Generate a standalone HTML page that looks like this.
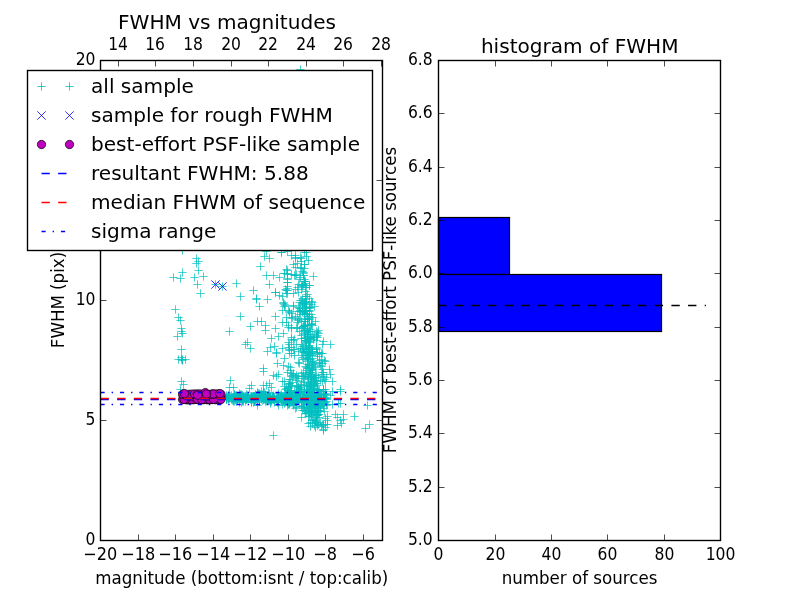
<!DOCTYPE html>
<html lang="en">
<head>
<meta charset="utf-8">
<title>FWHM vs magnitudes</title>
<style>
html,body{margin:0;padding:0;background:#fff;}
body{width:800px;height:600px;overflow:hidden;}
svg{display:block;}
svg text{font-family:"DejaVu Sans","Liberation Sans",sans-serif;fill:#000;}
</style>
</head>
<body>
<svg width="800" height="600" viewBox="0 0 800 600">
<rect width="800" height="600" fill="#fff"/>
<defs><clipPath id="cl"><rect x="100.5" y="60.5" width="282" height="480"/></clipPath></defs>
<g id="left-plot" clip-path="url(#cl)">
<path id="all-sample" d="M300.33 352.5h8.34M304.5 348.33v8.34M285.33 312.5h8.34M289.5 308.33v8.34M309.33 384.5h8.34M313.5 380.33v8.34M306.33 379.5h8.34M310.5 375.33v8.34M307.33 376.5h8.34M311.5 372.33v8.34M300.33 252.5h8.34M304.5 248.33v8.34M305.33 394.5h8.34M309.5 390.33v8.34M308.33 369.5h8.34M312.5 365.33v8.34M306.33 391.5h8.34M310.5 387.33v8.34M284.33 325.5h8.34M288.5 321.33v8.34M315.33 407.5h8.34M319.5 403.33v8.34M287.33 385.5h8.34M291.5 381.33v8.34M305.33 347.5h8.34M309.5 343.33v8.34M310.33 410.5h8.34M314.5 406.33v8.34M301.33 366.5h8.34M305.5 362.33v8.34M297.33 355.5h8.34M301.5 351.33v8.34M308.33 351.5h8.34M312.5 347.33v8.34M311.33 420.5h8.34M315.5 416.33v8.34M298.33 286.5h8.34M302.5 282.33v8.34M310.33 395.5h8.34M314.5 391.33v8.34M308.33 393.5h8.34M312.5 389.33v8.34M306.33 405.5h8.34M310.5 401.33v8.34M306.33 329.5h8.34M310.5 325.33v8.34M299.33 349.5h8.34M303.5 345.33v8.34M304.33 383.5h8.34M308.5 379.33v8.34M305.33 353.5h8.34M309.5 349.33v8.34M306.33 352.5h8.34M310.5 348.33v8.34M318.33 372.5h8.34M322.5 368.33v8.34M301.33 355.5h8.34M305.5 351.33v8.34M311.33 383.5h8.34M315.5 379.33v8.34M303.33 399.5h8.34M307.5 395.33v8.34M301.33 306.5h8.34M305.5 302.33v8.34M301.33 325.5h8.34M305.5 321.33v8.34M285.33 350.5h8.34M289.5 346.33v8.34M322.33 401.5h8.34M326.5 397.33v8.34M315.33 400.5h8.34M319.5 396.33v8.34M285.33 379.5h8.34M289.5 375.33v8.34M308.33 325.5h8.34M312.5 321.33v8.34M285.33 395.5h8.34M289.5 391.33v8.34M302.33 349.5h8.34M306.5 345.33v8.34M291.33 275.5h8.34M295.5 271.33v8.34M292.33 380.5h8.34M296.5 376.33v8.34M312.33 340.5h8.34M316.5 336.33v8.34M305.33 311.5h8.34M309.5 307.33v8.34M301.33 287.5h8.34M305.5 283.33v8.34M306.33 412.5h8.34M310.5 408.33v8.34M301.33 338.5h8.34M305.5 334.33v8.34M308.33 393.5h8.34M312.5 389.33v8.34M301.33 310.5h8.34M305.5 306.33v8.34M281.33 389.5h8.34M285.5 385.33v8.34M278.33 381.5h8.34M282.5 377.33v8.34M292.33 402.5h8.34M296.5 398.33v8.34M306.33 307.5h8.34M310.5 303.33v8.34M285.33 353.5h8.34M289.5 349.33v8.34M302.33 398.5h8.34M306.5 394.33v8.34M299.33 310.5h8.34M303.5 306.33v8.34M300.33 407.5h8.34M304.5 403.33v8.34M304.33 346.5h8.34M308.5 342.33v8.34M294.33 376.5h8.34M298.5 372.33v8.34M298.33 327.5h8.34M302.5 323.33v8.34M310.33 392.5h8.34M314.5 388.33v8.34M308.33 361.5h8.34M312.5 357.33v8.34M321.33 389.5h8.34M325.5 385.33v8.34M298.33 410.5h8.34M302.5 406.33v8.34M302.33 302.5h8.34M306.5 298.33v8.34M306.33 331.5h8.34M310.5 327.33v8.34M309.33 417.5h8.34M313.5 413.33v8.34M306.33 374.5h8.34M310.5 370.33v8.34M303.33 364.5h8.34M307.5 360.33v8.34M306.33 382.5h8.34M310.5 378.33v8.34M316.33 380.5h8.34M320.5 376.33v8.34M305.33 341.5h8.34M309.5 337.33v8.34M302.33 342.5h8.34M306.5 338.33v8.34M297.33 335.5h8.34M301.5 331.33v8.34M305.33 307.5h8.34M309.5 303.33v8.34M307.33 324.5h8.34M311.5 320.33v8.34M301.33 308.5h8.34M305.5 304.33v8.34M299.33 303.5h8.34M303.5 299.33v8.34M318.33 363.5h8.34M322.5 359.33v8.34M291.33 257.5h8.34M295.5 253.33v8.34M311.33 377.5h8.34M315.5 373.33v8.34M314.33 410.5h8.34M318.5 406.33v8.34M300.33 310.5h8.34M304.5 306.33v8.34M292.33 375.5h8.34M296.5 371.33v8.34M302.33 385.5h8.34M306.5 381.33v8.34M301.33 374.5h8.34M305.5 370.33v8.34M303.33 407.5h8.34M307.5 403.33v8.34M308.33 334.5h8.34M312.5 330.33v8.34M299.33 408.5h8.34M303.5 404.33v8.34M315.33 403.5h8.34M319.5 399.33v8.34M300.33 281.5h8.34M304.5 277.33v8.34M282.33 388.5h8.34M286.5 384.33v8.34M313.33 390.5h8.34M317.5 386.33v8.34M299.33 352.5h8.34M303.5 348.33v8.34M308.33 351.5h8.34M312.5 347.33v8.34M311.33 381.5h8.34M315.5 377.33v8.34M312.33 397.5h8.34M316.5 393.33v8.34M314.33 410.5h8.34M318.5 406.33v8.34M293.33 319.5h8.34M297.5 315.33v8.34M307.33 410.5h8.34M311.5 406.33v8.34M293.33 378.5h8.34M297.5 374.33v8.34M308.33 397.5h8.34M312.5 393.33v8.34M305.33 319.5h8.34M309.5 315.33v8.34M280.33 306.5h8.34M284.5 302.33v8.34M303.33 314.5h8.34M307.5 310.33v8.34M303.33 328.5h8.34M307.5 324.33v8.34M306.33 376.5h8.34M310.5 372.33v8.34M319.33 376.5h8.34M323.5 372.33v8.34M304.33 416.5h8.34M308.5 412.33v8.34M316.33 403.5h8.34M320.5 399.33v8.34M304.33 368.5h8.34M308.5 364.33v8.34M317.33 398.5h8.34M321.5 394.33v8.34M296.33 314.5h8.34M300.5 310.33v8.34M308.33 370.5h8.34M312.5 366.33v8.34M319.33 425.5h8.34M323.5 421.33v8.34M303.33 316.5h8.34M307.5 312.33v8.34M315.33 398.5h8.34M319.5 394.33v8.34M310.33 386.5h8.34M314.5 382.33v8.34M316.33 365.5h8.34M320.5 361.33v8.34M299.33 326.5h8.34M303.5 322.33v8.34M296.33 310.5h8.34M300.5 306.33v8.34M309.33 401.5h8.34M313.5 397.33v8.34M301.33 330.5h8.34M305.5 326.33v8.34M301.33 341.5h8.34M305.5 337.33v8.34M301.33 281.5h8.34M305.5 277.33v8.34M287.33 347.5h8.34M291.5 343.33v8.34M311.33 380.5h8.34M315.5 376.33v8.34M289.33 293.5h8.34M293.5 289.33v8.34M305.33 324.5h8.34M309.5 320.33v8.34M287.33 376.5h8.34M291.5 372.33v8.34M304.33 352.5h8.34M308.5 348.33v8.34M309.33 379.5h8.34M313.5 375.33v8.34M303.33 351.5h8.34M307.5 347.33v8.34M296.33 277.5h8.34M300.5 273.33v8.34M289.33 405.5h8.34M293.5 401.33v8.34M304.33 334.5h8.34M308.5 330.33v8.34M297.33 401.5h8.34M301.5 397.33v8.34M310.33 380.5h8.34M314.5 376.33v8.34M301.33 321.5h8.34M305.5 317.33v8.34M315.33 360.5h8.34M319.5 356.33v8.34M306.33 403.5h8.34M310.5 399.33v8.34M312.33 347.5h8.34M316.5 343.33v8.34M308.33 406.5h8.34M312.5 402.33v8.34M309.33 382.5h8.34M313.5 378.33v8.34M295.33 311.5h8.34M299.5 307.33v8.34M306.33 399.5h8.34M310.5 395.33v8.34M299.33 359.5h8.34M303.5 355.33v8.34M300.33 391.5h8.34M304.5 387.33v8.34M317.33 366.5h8.34M321.5 362.33v8.34M313.33 408.5h8.34M317.5 404.33v8.34M322.33 377.5h8.34M326.5 373.33v8.34M300.33 385.5h8.34M304.5 381.33v8.34M300.33 319.5h8.34M304.5 315.33v8.34M306.33 404.5h8.34M310.5 400.33v8.34M304.33 336.5h8.34M308.5 332.33v8.34M307.33 414.5h8.34M311.5 410.33v8.34M300.33 334.5h8.34M304.5 330.33v8.34M296.33 399.5h8.34M300.5 395.33v8.34M309.33 392.5h8.34M313.5 388.33v8.34M314.33 410.5h8.34M318.5 406.33v8.34M306.33 398.5h8.34M310.5 394.33v8.34M309.33 388.5h8.34M313.5 384.33v8.34M301.33 340.5h8.34M305.5 336.33v8.34M307.33 399.5h8.34M311.5 395.33v8.34M293.33 328.5h8.34M297.5 324.33v8.34M297.33 285.5h8.34M301.5 281.33v8.34M320.33 360.5h8.34M324.5 356.33v8.34M298.33 312.5h8.34M302.5 308.33v8.34M306.33 426.5h8.34M310.5 422.33v8.34M306.33 387.5h8.34M310.5 383.33v8.34M285.33 383.5h8.34M289.5 379.33v8.34M303.33 319.5h8.34M307.5 315.33v8.34M292.33 344.5h8.34M296.5 340.33v8.34M301.33 375.5h8.34M305.5 371.33v8.34M286.33 390.5h8.34M290.5 386.33v8.34M298.33 357.5h8.34M302.5 353.33v8.34M307.33 390.5h8.34M311.5 386.33v8.34M302.33 353.5h8.34M306.5 349.33v8.34M305.33 410.5h8.34M309.5 406.33v8.34M306.33 396.5h8.34M310.5 392.33v8.34M312.33 415.5h8.34M316.5 411.33v8.34M308.33 358.5h8.34M312.5 354.33v8.34M293.33 311.5h8.34M297.5 307.33v8.34M307.33 403.5h8.34M311.5 399.33v8.34M305.33 331.5h8.34M309.5 327.33v8.34M305.33 384.5h8.34M309.5 380.33v8.34M312.33 414.5h8.34M316.5 410.33v8.34M287.33 327.5h8.34M291.5 323.33v8.34M296.33 300.5h8.34M300.5 296.33v8.34M283.33 393.5h8.34M287.5 389.33v8.34M300.33 325.5h8.34M304.5 321.33v8.34M296.33 308.5h8.34M300.5 304.33v8.34M297.33 267.5h8.34M301.5 263.33v8.34M309.33 399.5h8.34M313.5 395.33v8.34M302.33 296.5h8.34M306.5 292.33v8.34M312.33 349.5h8.34M316.5 345.33v8.34M318.33 344.5h8.34M322.5 340.33v8.34M301.33 296.5h8.34M305.5 292.33v8.34M292.33 407.5h8.34M296.5 403.33v8.34M307.33 314.5h8.34M311.5 310.33v8.34M289.33 340.5h8.34M293.5 336.33v8.34M316.33 395.5h8.34M320.5 391.33v8.34M286.33 386.5h8.34M290.5 382.33v8.34M319.33 389.5h8.34M323.5 385.33v8.34M314.33 424.5h8.34M318.5 420.33v8.34M309.33 337.5h8.34M313.5 333.33v8.34M304.33 260.5h8.34M308.5 256.33v8.34M299.33 272.5h8.34M303.5 268.33v8.34M299.33 382.5h8.34M303.5 378.33v8.34M297.33 373.5h8.34M301.5 369.33v8.34M303.33 336.5h8.34M307.5 332.33v8.34M307.33 349.5h8.34M311.5 345.33v8.34M308.33 407.5h8.34M312.5 403.33v8.34M297.33 406.5h8.34M301.5 402.33v8.34M313.33 425.5h8.34M317.5 421.33v8.34M305.33 367.5h8.34M309.5 363.33v8.34M297.33 261.5h8.34M301.5 257.33v8.34M306.33 338.5h8.34M310.5 334.33v8.34M315.33 363.5h8.34M319.5 359.33v8.34M308.33 410.5h8.34M312.5 406.33v8.34M285.33 383.5h8.34M289.5 379.33v8.34M312.33 336.5h8.34M316.5 332.33v8.34M294.33 362.5h8.34M298.5 358.33v8.34M308.33 407.5h8.34M312.5 403.33v8.34M307.33 324.5h8.34M311.5 320.33v8.34M311.33 321.5h8.34M315.5 317.33v8.34M285.33 311.5h8.34M289.5 307.33v8.34M290.33 355.5h8.34M294.5 351.33v8.34M310.33 419.5h8.34M314.5 415.33v8.34M305.33 348.5h8.34M309.5 344.33v8.34M313.33 352.5h8.34M317.5 348.33v8.34M302.33 351.5h8.34M306.5 347.33v8.34M304.33 360.5h8.34M308.5 356.33v8.34M284.33 388.5h8.34M288.5 384.33v8.34M290.33 396.5h8.34M294.5 392.33v8.34M284.33 384.5h8.34M288.5 380.33v8.34M313.33 385.5h8.34M317.5 381.33v8.34M305.33 372.5h8.34M309.5 368.33v8.34M307.33 304.5h8.34M311.5 300.33v8.34M313.33 415.5h8.34M317.5 411.33v8.34M300.33 333.5h8.34M304.5 329.33v8.34M314.33 403.5h8.34M318.5 399.33v8.34M306.33 355.5h8.34M310.5 351.33v8.34M309.33 276.5h8.34M313.5 272.33v8.34M311.33 378.5h8.34M315.5 374.33v8.34M291.33 258.5h8.34M295.5 254.33v8.34M315.33 352.5h8.34M319.5 348.33v8.34M307.33 365.5h8.34M311.5 361.33v8.34M301.33 397.5h8.34M305.5 393.33v8.34M301.33 337.5h8.34M305.5 333.33v8.34M282.33 317.5h8.34M286.5 313.33v8.34M299.33 326.5h8.34M303.5 322.33v8.34M283.33 393.5h8.34M287.5 389.33v8.34M307.33 372.5h8.34M311.5 368.33v8.34M312.33 383.5h8.34M316.5 379.33v8.34M314.33 377.5h8.34M318.5 373.33v8.34M307.33 353.5h8.34M311.5 349.33v8.34M308.33 401.5h8.34M312.5 397.33v8.34M305.33 365.5h8.34M309.5 361.33v8.34M306.33 374.5h8.34M310.5 370.33v8.34M299.33 372.5h8.34M303.5 368.33v8.34M318.33 381.5h8.34M322.5 377.33v8.34M323.33 404.5h8.34M327.5 400.33v8.34M310.33 397.5h8.34M314.5 393.33v8.34M322.33 398.5h8.34M326.5 394.33v8.34M316.33 405.5h8.34M320.5 401.33v8.34M293.33 386.5h8.34M297.5 382.33v8.34M303.33 361.5h8.34M307.5 357.33v8.34M319.33 389.5h8.34M323.5 385.33v8.34M284.33 392.5h8.34M288.5 388.33v8.34M311.33 400.5h8.34M315.5 396.33v8.34M284.33 347.5h8.34M288.5 343.33v8.34M304.33 351.5h8.34M308.5 347.33v8.34M312.33 402.5h8.34M316.5 398.33v8.34M291.33 397.5h8.34M295.5 393.33v8.34M283.33 392.5h8.34M287.5 388.33v8.34M312.33 422.5h8.34M316.5 418.33v8.34M281.33 305.5h8.34M285.5 301.33v8.34M310.33 377.5h8.34M314.5 373.33v8.34M306.33 372.5h8.34M310.5 368.33v8.34M298.33 303.5h8.34M302.5 299.33v8.34M295.33 388.5h8.34M299.5 384.33v8.34M300.33 313.5h8.34M304.5 309.33v8.34M303.33 355.5h8.34M307.5 351.33v8.34M300.33 304.5h8.34M304.5 300.33v8.34M318.33 369.5h8.34M322.5 365.33v8.34M304.33 347.5h8.34M308.5 343.33v8.34M312.33 397.5h8.34M316.5 393.33v8.34M286.33 370.5h8.34M290.5 366.33v8.34M304.33 376.5h8.34M308.5 372.33v8.34M317.33 359.5h8.34M321.5 355.33v8.34M309.33 390.5h8.34M313.5 386.33v8.34M301.33 340.5h8.34M305.5 336.33v8.34M305.33 318.5h8.34M309.5 314.33v8.34M300.33 330.5h8.34M304.5 326.33v8.34M307.33 381.5h8.34M311.5 377.33v8.34M300.33 378.5h8.34M304.5 374.33v8.34M311.33 421.5h8.34M315.5 417.33v8.34M307.33 376.5h8.34M311.5 372.33v8.34M305.33 416.5h8.34M309.5 412.33v8.34M297.33 381.5h8.34M301.5 377.33v8.34M318.33 424.5h8.34M322.5 420.33v8.34M291.33 377.5h8.34M295.5 373.33v8.34M309.33 385.5h8.34M313.5 381.33v8.34M301.33 301.5h8.34M305.5 297.33v8.34M314.33 330.5h8.34M318.5 326.33v8.34M303.33 294.5h8.34M307.5 290.33v8.34M313.33 356.5h8.34M317.5 352.33v8.34M292.33 327.5h8.34M296.5 323.33v8.34M298.33 346.5h8.34M302.5 342.33v8.34M307.33 337.5h8.34M311.5 333.33v8.34M277.33 396.5h8.34M281.5 392.33v8.34M284.33 342.5h8.34M288.5 338.33v8.34M285.33 344.5h8.34M289.5 340.33v8.34M308.33 368.5h8.34M312.5 364.33v8.34M315.33 397.5h8.34M319.5 393.33v8.34M310.33 364.5h8.34M314.5 360.33v8.34M308.33 369.5h8.34M312.5 365.33v8.34M303.33 358.5h8.34M307.5 354.33v8.34M302.33 310.5h8.34M306.5 306.33v8.34M301.33 283.5h8.34M305.5 279.33v8.34M311.33 405.5h8.34M315.5 401.33v8.34M284.33 387.5h8.34M288.5 383.33v8.34M306.33 422.5h8.34M310.5 418.33v8.34M307.33 386.5h8.34M311.5 382.33v8.34M311.33 413.5h8.34M315.5 409.33v8.34M305.33 373.5h8.34M309.5 369.33v8.34M313.33 395.5h8.34M317.5 391.33v8.34M292.33 391.5h8.34M296.5 387.33v8.34M307.33 323.5h8.34M311.5 319.33v8.34M290.33 349.5h8.34M294.5 345.33v8.34M292.33 385.5h8.34M296.5 381.33v8.34M305.33 392.5h8.34M309.5 388.33v8.34M295.33 318.5h8.34M299.5 314.33v8.34M283.33 394.5h8.34M287.5 390.33v8.34M288.33 317.5h8.34M292.5 313.33v8.34M287.33 337.5h8.34M291.5 333.33v8.34M303.33 319.5h8.34M307.5 315.33v8.34M309.33 388.5h8.34M313.5 384.33v8.34M289.33 373.5h8.34M293.5 369.33v8.34M300.33 268.5h8.34M304.5 264.33v8.34M308.33 355.5h8.34M312.5 351.33v8.34M312.33 422.5h8.34M316.5 418.33v8.34M296.33 395.5h8.34M300.5 391.33v8.34M305.33 298.5h8.34M309.5 294.33v8.34M315.33 362.5h8.34M319.5 358.33v8.34M306.33 385.5h8.34M310.5 381.33v8.34M326.33 395.5h8.34M330.5 391.33v8.34M304.33 412.5h8.34M308.5 408.33v8.34M293.33 322.5h8.34M297.5 318.33v8.34M295.33 308.5h8.34M299.5 304.33v8.34M304.33 349.5h8.34M308.5 345.33v8.34M314.33 414.5h8.34M318.5 410.33v8.34M298.33 302.5h8.34M302.5 298.33v8.34M318.33 353.5h8.34M322.5 349.33v8.34M322.33 405.5h8.34M326.5 401.33v8.34M305.33 353.5h8.34M309.5 349.33v8.34M300.33 338.5h8.34M304.5 334.33v8.34M301.33 340.5h8.34M305.5 336.33v8.34M307.33 374.5h8.34M311.5 370.33v8.34M306.33 342.5h8.34M310.5 338.33v8.34M302.33 313.5h8.34M306.5 309.33v8.34M308.33 404.5h8.34M312.5 400.33v8.34M297.33 321.5h8.34M301.5 317.33v8.34M312.33 406.5h8.34M316.5 402.33v8.34M306.33 377.5h8.34M310.5 373.33v8.34M291.33 316.5h8.34M295.5 312.33v8.34M302.33 367.5h8.34M306.5 363.33v8.34M309.33 402.5h8.34M313.5 398.33v8.34M304.33 358.5h8.34M308.5 354.33v8.34M304.33 347.5h8.34M308.5 343.33v8.34M302.33 343.5h8.34M306.5 339.33v8.34M303.33 368.5h8.34M307.5 364.33v8.34M305.33 339.5h8.34M309.5 335.33v8.34M319.33 430.5h8.34M323.5 426.33v8.34M299.33 348.5h8.34M303.5 344.33v8.34M299.33 376.5h8.34M303.5 372.33v8.34M310.33 306.5h8.34M314.5 302.33v8.34M303.33 391.5h8.34M307.5 387.33v8.34M290.33 339.5h8.34M294.5 335.33v8.34M287.33 353.5h8.34M291.5 349.33v8.34M321.33 418.5h8.34M325.5 414.33v8.34M295.33 279.5h8.34M299.5 275.33v8.34M284.33 327.5h8.34M288.5 323.33v8.34M308.33 420.5h8.34M312.5 416.33v8.34M298.33 310.5h8.34M302.5 306.33v8.34M303.33 330.5h8.34M307.5 326.33v8.34M312.33 392.5h8.34M316.5 388.33v8.34M313.33 397.5h8.34M317.5 393.33v8.34M301.33 340.5h8.34M305.5 336.33v8.34M307.33 412.5h8.34M311.5 408.33v8.34M302.33 370.5h8.34M306.5 366.33v8.34M303.33 331.5h8.34M307.5 327.33v8.34M308.33 302.5h8.34M312.5 298.33v8.34M296.33 387.5h8.34M300.5 383.33v8.34M288.33 375.5h8.34M292.5 371.33v8.34M305.33 316.5h8.34M309.5 312.33v8.34M300.33 326.5h8.34M304.5 322.33v8.34M310.33 407.5h8.34M314.5 403.33v8.34M319.33 372.5h8.34M323.5 368.33v8.34M287.33 339.5h8.34M291.5 335.33v8.34M300.33 314.5h8.34M304.5 310.33v8.34M313.33 354.5h8.34M317.5 350.33v8.34M297.33 328.5h8.34M301.5 324.33v8.34M318.33 403.5h8.34M322.5 399.33v8.34M294.33 387.5h8.34M298.5 383.33v8.34M286.33 379.5h8.34M290.5 375.33v8.34M314.33 333.5h8.34M318.5 329.33v8.34M311.33 367.5h8.34M315.5 363.33v8.34M289.33 374.5h8.34M293.5 370.33v8.34M311.33 397.5h8.34M315.5 393.33v8.34M323.33 420.5h8.34M327.5 416.33v8.34M300.33 302.5h8.34M304.5 298.33v8.34M313.33 390.5h8.34M317.5 386.33v8.34M310.33 408.5h8.34M314.5 404.33v8.34M282.33 400.5h8.34M286.5 396.33v8.34M294.33 307.5h8.34M298.5 303.33v8.34M308.33 400.5h8.34M312.5 396.33v8.34M295.33 391.5h8.34M299.5 387.33v8.34M313.33 423.5h8.34M317.5 419.33v8.34M302.33 402.5h8.34M306.5 398.33v8.34M296.33 268.5h8.34M300.5 264.33v8.34M301.33 413.5h8.34M305.5 409.33v8.34M316.33 422.5h8.34M320.5 418.33v8.34M301.33 299.5h8.34M305.5 295.33v8.34M301.33 340.5h8.34M305.5 336.33v8.34M289.33 306.5h8.34M293.5 302.33v8.34M312.33 348.5h8.34M316.5 344.33v8.34M305.33 351.5h8.34M309.5 347.33v8.34M314.33 414.5h8.34M318.5 410.33v8.34M303.33 338.5h8.34M307.5 334.33v8.34M304.33 318.5h8.34M308.5 314.33v8.34M303.33 377.5h8.34M307.5 373.33v8.34M303.33 338.5h8.34M307.5 334.33v8.34M284.33 310.5h8.34M288.5 306.33v8.34M297.33 300.5h8.34M301.5 296.33v8.34M305.33 402.5h8.34M309.5 398.33v8.34M317.33 374.5h8.34M321.5 370.33v8.34M313.33 396.5h8.34M317.5 392.33v8.34M311.33 375.5h8.34M315.5 371.33v8.34M297.33 417.5h8.34M301.5 413.33v8.34M310.33 425.5h8.34M314.5 421.33v8.34M304.33 379.5h8.34M308.5 375.33v8.34M298.33 311.5h8.34M302.5 307.33v8.34M278.33 296.5h8.34M282.5 292.33v8.34M284.33 387.5h8.34M288.5 383.33v8.34M308.33 317.5h8.34M312.5 313.33v8.34M298.33 298.5h8.34M302.5 294.33v8.34M300.33 281.5h8.34M304.5 277.33v8.34M305.33 345.5h8.34M309.5 341.33v8.34M287.33 318.5h8.34M291.5 314.33v8.34M312.33 375.5h8.34M316.5 371.33v8.34M320.33 379.5h8.34M324.5 375.33v8.34M296.33 348.5h8.34M300.5 344.33v8.34M295.33 302.5h8.34M299.5 298.33v8.34M313.33 335.5h8.34M317.5 331.33v8.34M307.33 389.5h8.34M311.5 385.33v8.34M321.33 398.5h8.34M325.5 394.33v8.34M311.33 398.5h8.34M315.5 394.33v8.34M302.33 355.5h8.34M306.5 351.33v8.34M304.33 331.5h8.34M308.5 327.33v8.34M295.33 331.5h8.34M299.5 327.33v8.34M319.33 374.5h8.34M323.5 370.33v8.34M306.33 359.5h8.34M310.5 355.33v8.34M304.33 409.5h8.34M308.5 405.33v8.34M280.33 386.5h8.34M284.5 382.33v8.34M319.33 405.5h8.34M323.5 401.33v8.34M308.33 389.5h8.34M312.5 385.33v8.34M287.33 373.5h8.34M291.5 369.33v8.34M308.33 363.5h8.34M312.5 359.33v8.34M304.33 423.5h8.34M308.5 419.33v8.34M306.33 337.5h8.34M310.5 333.33v8.34M321.33 393.5h8.34M325.5 389.33v8.34M277.33 394.5h8.34M281.5 390.33v8.34M309.33 366.5h8.34M313.5 362.33v8.34M298.33 305.5h8.34M302.5 301.33v8.34M305.33 408.5h8.34M309.5 404.33v8.34M294.33 398.5h8.34M298.5 394.33v8.34M301.33 291.5h8.34M305.5 287.33v8.34M310.33 395.5h8.34M314.5 391.33v8.34M307.33 403.5h8.34M311.5 399.33v8.34M312.33 415.5h8.34M316.5 411.33v8.34M323.33 416.5h8.34M327.5 412.33v8.34M307.33 410.5h8.34M311.5 406.33v8.34M280.33 381.5h8.34M284.5 377.33v8.34M293.33 287.5h8.34M297.5 283.33v8.34M304.33 410.5h8.34M308.5 406.33v8.34M310.33 384.5h8.34M314.5 380.33v8.34M287.33 328.5h8.34M291.5 324.33v8.34M289.33 349.5h8.34M293.5 345.33v8.34M305.33 310.5h8.34M309.5 306.33v8.34M305.33 308.5h8.34M309.5 304.33v8.34M298.33 376.5h8.34M302.5 372.33v8.34M312.33 412.5h8.34M316.5 408.33v8.34M313.33 415.5h8.34M317.5 411.33v8.34M301.33 321.5h8.34M305.5 317.33v8.34M303.33 325.5h8.34M307.5 321.33v8.34M302.33 332.5h8.34M306.5 328.33v8.34M307.33 415.5h8.34M311.5 411.33v8.34M295.33 363.5h8.34M299.5 359.33v8.34M304.33 395.5h8.34M308.5 391.33v8.34M282.33 322.5h8.34M286.5 318.33v8.34M309.33 339.5h8.34M313.5 335.33v8.34M309.33 399.5h8.34M313.5 395.33v8.34M297.33 384.5h8.34M301.5 380.33v8.34M313.33 412.5h8.34M317.5 408.33v8.34M301.33 311.5h8.34M305.5 307.33v8.34M302.33 303.5h8.34M306.5 299.33v8.34M302.33 351.5h8.34M306.5 347.33v8.34M304.33 390.5h8.34M308.5 386.33v8.34M304.33 359.5h8.34M308.5 355.33v8.34M312.33 331.5h8.34M316.5 327.33v8.34M305.33 354.5h8.34M309.5 350.33v8.34M302.33 403.5h8.34M306.5 399.33v8.34M285.33 349.5h8.34M289.5 345.33v8.34M307.33 394.5h8.34M311.5 390.33v8.34M287.33 313.5h8.34M291.5 309.33v8.34M286.33 367.5h8.34M290.5 363.33v8.34M280.33 304.5h8.34M284.5 300.33v8.34M311.33 406.5h8.34M315.5 402.33v8.34M296.33 390.5h8.34M300.5 386.33v8.34M297.33 344.5h8.34M301.5 340.33v8.34M309.33 382.5h8.34M313.5 378.33v8.34M301.33 345.5h8.34M305.5 341.33v8.34M307.33 411.5h8.34M311.5 407.33v8.34M289.33 305.5h8.34M293.5 301.33v8.34M299.33 284.5h8.34M303.5 280.33v8.34M319.33 424.5h8.34M323.5 420.33v8.34M281.33 289.5h8.34M285.5 285.33v8.34M307.33 378.5h8.34M311.5 374.33v8.34M279.33 365.5h8.34M283.5 361.33v8.34M302.33 351.5h8.34M306.5 347.33v8.34M282.33 399.5h8.34M286.5 395.33v8.34M284.33 366.5h8.34M288.5 362.33v8.34M298.33 350.5h8.34M302.5 346.33v8.34M283.33 372.5h8.34M287.5 368.33v8.34M313.33 353.5h8.34M317.5 349.33v8.34M310.33 337.5h8.34M314.5 333.33v8.34M309.33 362.5h8.34M313.5 358.33v8.34M294.33 320.5h8.34M298.5 316.33v8.34M299.33 273.5h8.34M303.5 269.33v8.34M307.33 301.5h8.34M311.5 297.33v8.34M320.33 399.5h8.34M324.5 395.33v8.34M300.33 397.5h8.34M304.5 393.33v8.34M294.33 284.5h8.34M298.5 280.33v8.34M313.33 414.5h8.34M317.5 410.33v8.34M312.33 400.5h8.34M316.5 396.33v8.34M315.33 417.5h8.34M319.5 413.33v8.34M319.33 408.5h8.34M323.5 404.33v8.34M298.33 402.5h8.34M302.5 398.33v8.34M317.33 353.5h8.34M321.5 349.33v8.34M316.33 406.5h8.34M320.5 402.33v8.34M319.33 429.5h8.34M323.5 425.33v8.34M313.33 411.5h8.34M317.5 407.33v8.34M288.33 382.5h8.34M292.5 378.33v8.34M294.33 351.5h8.34M298.5 347.33v8.34M308.33 349.5h8.34M312.5 345.33v8.34M297.33 338.5h8.34M301.5 334.33v8.34M280.33 392.5h8.34M284.5 388.33v8.34M306.33 389.5h8.34M310.5 385.33v8.34M302.33 413.5h8.34M306.5 409.33v8.34M238.33 399.5h8.34M242.5 395.33v8.34M279.33 399.5h8.34M283.5 395.33v8.34M238.33 396.5h8.34M242.5 392.33v8.34M253.33 393.5h8.34M257.5 389.33v8.34M229.33 401.5h8.34M233.5 397.33v8.34M250.33 396.5h8.34M254.5 392.33v8.34M265.33 393.5h8.34M269.5 389.33v8.34M234.33 396.5h8.34M238.5 392.33v8.34M261.33 397.5h8.34M265.5 393.33v8.34M261.33 397.5h8.34M265.5 393.33v8.34M250.33 399.5h8.34M254.5 395.33v8.34M278.33 397.5h8.34M282.5 393.33v8.34M223.33 396.5h8.34M227.5 392.33v8.34M270.33 401.5h8.34M274.5 397.33v8.34M232.33 401.5h8.34M236.5 397.33v8.34M232.33 398.5h8.34M236.5 394.33v8.34M274.33 400.5h8.34M278.5 396.33v8.34M279.33 401.5h8.34M283.5 397.33v8.34M285.33 399.5h8.34M289.5 395.33v8.34M253.33 398.5h8.34M257.5 394.33v8.34M273.33 402.5h8.34M277.5 398.33v8.34M241.33 399.5h8.34M245.5 395.33v8.34M260.33 396.5h8.34M264.5 392.33v8.34M230.33 395.5h8.34M234.5 391.33v8.34M267.33 398.5h8.34M271.5 394.33v8.34M263.33 397.5h8.34M267.5 393.33v8.34M251.33 395.5h8.34M255.5 391.33v8.34M225.33 397.5h8.34M229.5 393.33v8.34M259.33 397.5h8.34M263.5 393.33v8.34M224.33 398.5h8.34M228.5 394.33v8.34M239.33 398.5h8.34M243.5 394.33v8.34M261.33 399.5h8.34M265.5 395.33v8.34M278.33 396.5h8.34M282.5 392.33v8.34M225.33 398.5h8.34M229.5 394.33v8.34M265.33 397.5h8.34M269.5 393.33v8.34M226.33 396.5h8.34M230.5 392.33v8.34M229.33 400.5h8.34M233.5 396.33v8.34M282.33 398.5h8.34M286.5 394.33v8.34M229.33 399.5h8.34M233.5 395.33v8.34M251.33 400.5h8.34M255.5 396.33v8.34M233.33 399.5h8.34M237.5 395.33v8.34M266.33 402.5h8.34M270.5 398.33v8.34M225.33 397.5h8.34M229.5 393.33v8.34M253.33 396.5h8.34M257.5 392.33v8.34M228.33 398.5h8.34M232.5 394.33v8.34M253.33 402.5h8.34M257.5 398.33v8.34M253.33 398.5h8.34M257.5 394.33v8.34M257.33 399.5h8.34M261.5 395.33v8.34M250.33 396.5h8.34M254.5 392.33v8.34M228.33 400.5h8.34M232.5 396.33v8.34M252.33 397.5h8.34M256.5 393.33v8.34M255.33 393.5h8.34M259.5 389.33v8.34M269.33 396.5h8.34M273.5 392.33v8.34M250.33 399.5h8.34M254.5 395.33v8.34M230.33 401.5h8.34M234.5 397.33v8.34M273.33 401.5h8.34M277.5 397.33v8.34M277.33 401.5h8.34M281.5 397.33v8.34M257.33 397.5h8.34M261.5 393.33v8.34M252.33 398.5h8.34M256.5 394.33v8.34M261.33 398.5h8.34M265.5 394.33v8.34M229.33 398.5h8.34M233.5 394.33v8.34M261.33 394.5h8.34M265.5 390.33v8.34M253.33 398.5h8.34M257.5 394.33v8.34M244.33 396.5h8.34M248.5 392.33v8.34M255.33 397.5h8.34M259.5 393.33v8.34M243.33 396.5h8.34M247.5 392.33v8.34M249.33 399.5h8.34M253.5 395.33v8.34M238.33 395.5h8.34M242.5 391.33v8.34M265.33 400.5h8.34M269.5 396.33v8.34M241.33 401.5h8.34M245.5 397.33v8.34M263.33 400.5h8.34M267.5 396.33v8.34M282.33 395.5h8.34M286.5 391.33v8.34M232.33 396.5h8.34M236.5 392.33v8.34M273.33 400.5h8.34M277.5 396.33v8.34M285.33 404.5h8.34M289.5 400.33v8.34M237.33 396.5h8.34M241.5 392.33v8.34M280.33 402.5h8.34M284.5 398.33v8.34M247.33 402.5h8.34M251.5 398.33v8.34M246.33 396.5h8.34M250.5 392.33v8.34M242.33 394.5h8.34M246.5 390.33v8.34M238.33 400.5h8.34M242.5 396.33v8.34M266.33 403.5h8.34M270.5 399.33v8.34M229.33 399.5h8.34M233.5 395.33v8.34M238.33 401.5h8.34M242.5 397.33v8.34M243.33 398.5h8.34M247.5 394.33v8.34M252.33 395.5h8.34M256.5 391.33v8.34M267.33 400.5h8.34M271.5 396.33v8.34M238.33 395.5h8.34M242.5 391.33v8.34M261.33 398.5h8.34M265.5 394.33v8.34M231.33 399.5h8.34M235.5 395.33v8.34M268.33 396.5h8.34M272.5 392.33v8.34M267.33 399.5h8.34M271.5 395.33v8.34M245.33 398.5h8.34M249.5 394.33v8.34M284.33 390.5h8.34M288.5 386.33v8.34M285.33 401.5h8.34M289.5 397.33v8.34M237.33 402.5h8.34M241.5 398.33v8.34M283.33 394.5h8.34M287.5 390.33v8.34M229.33 397.5h8.34M233.5 393.33v8.34M272.33 399.5h8.34M276.5 395.33v8.34M237.33 394.5h8.34M241.5 390.33v8.34M255.33 399.5h8.34M259.5 395.33v8.34M266.33 397.5h8.34M270.5 393.33v8.34M243.33 395.5h8.34M247.5 391.33v8.34M231.33 396.5h8.34M235.5 392.33v8.34M222.33 398.5h8.34M226.5 394.33v8.34M250.33 397.5h8.34M254.5 393.33v8.34M259.33 397.5h8.34M263.5 393.33v8.34M232.33 397.5h8.34M236.5 393.33v8.34M258.33 394.5h8.34M262.5 390.33v8.34M276.33 397.5h8.34M280.5 393.33v8.34M244.33 397.5h8.34M248.5 393.33v8.34M255.33 396.5h8.34M259.5 392.33v8.34M276.33 395.5h8.34M280.5 391.33v8.34M280.33 403.5h8.34M284.5 399.33v8.34M259.33 397.5h8.34M263.5 393.33v8.34M270.33 397.5h8.34M274.5 393.33v8.34M247.33 396.5h8.34M251.5 392.33v8.34M265.33 399.5h8.34M269.5 395.33v8.34M242.33 399.5h8.34M246.5 395.33v8.34M239.33 396.5h8.34M243.5 392.33v8.34M243.33 398.5h8.34M247.5 394.33v8.34M270.33 398.5h8.34M274.5 394.33v8.34M250.33 396.5h8.34M254.5 392.33v8.34M249.33 397.5h8.34M253.5 393.33v8.34M255.33 401.5h8.34M259.5 397.33v8.34M222.33 397.5h8.34M226.5 393.33v8.34M259.33 399.5h8.34M263.5 395.33v8.34M223.33 397.5h8.34M227.5 393.33v8.34M253.33 394.5h8.34M257.5 390.33v8.34M230.33 394.5h8.34M234.5 390.33v8.34M228.33 397.5h8.34M232.5 393.33v8.34M248.33 396.5h8.34M252.5 392.33v8.34M269.33 397.5h8.34M273.5 393.33v8.34M253.33 392.5h8.34M257.5 388.33v8.34M231.33 398.5h8.34M235.5 394.33v8.34M222.33 399.5h8.34M226.5 395.33v8.34M277.33 397.5h8.34M281.5 393.33v8.34M251.33 394.5h8.34M255.5 390.33v8.34M272.33 398.5h8.34M276.5 394.33v8.34M250.33 401.5h8.34M254.5 397.33v8.34M254.33 397.5h8.34M258.5 393.33v8.34M249.33 402.5h8.34M253.5 398.33v8.34M255.33 400.5h8.34M259.5 396.33v8.34M222.33 399.5h8.34M226.5 395.33v8.34M227.33 398.5h8.34M231.5 394.33v8.34M222.33 395.5h8.34M226.5 391.33v8.34M285.33 400.5h8.34M289.5 396.33v8.34M244.33 398.5h8.34M248.5 394.33v8.34M247.33 398.5h8.34M251.5 394.33v8.34M285.33 403.5h8.34M289.5 399.33v8.34M254.33 396.5h8.34M258.5 392.33v8.34M250.33 399.5h8.34M254.5 395.33v8.34M257.33 391.5h8.34M261.5 387.33v8.34M283.33 402.5h8.34M287.5 398.33v8.34M279.33 400.5h8.34M283.5 396.33v8.34M264.33 397.5h8.34M268.5 393.33v8.34M235.33 397.5h8.34M239.5 393.33v8.34M282.33 396.5h8.34M286.5 392.33v8.34M262.33 398.5h8.34M266.5 394.33v8.34M247.33 399.5h8.34M251.5 395.33v8.34M257.33 397.5h8.34M261.5 393.33v8.34M241.33 396.5h8.34M245.5 392.33v8.34M236.33 396.5h8.34M240.5 392.33v8.34M247.33 398.5h8.34M251.5 394.33v8.34M236.33 398.5h8.34M240.5 394.33v8.34M239.33 396.5h8.34M243.5 392.33v8.34M264.33 399.5h8.34M268.5 395.33v8.34M259.33 392.5h8.34M263.5 388.33v8.34M229.33 397.5h8.34M233.5 393.33v8.34M223.33 398.5h8.34M227.5 394.33v8.34M273.33 397.5h8.34M277.5 393.33v8.34M235.33 398.5h8.34M239.5 394.33v8.34M234.33 397.5h8.34M238.5 393.33v8.34M280.33 395.5h8.34M284.5 391.33v8.34M283.33 402.5h8.34M287.5 398.33v8.34M258.33 400.5h8.34M262.5 396.33v8.34M261.33 397.5h8.34M265.5 393.33v8.34M228.33 398.5h8.34M232.5 394.33v8.34M222.33 398.5h8.34M226.5 394.33v8.34M259.33 391.5h8.34M263.5 387.33v8.34M234.33 397.5h8.34M238.5 393.33v8.34M255.33 398.5h8.34M259.5 394.33v8.34M253.33 399.5h8.34M257.5 395.33v8.34M259.33 399.5h8.34M263.5 395.33v8.34M250.33 401.5h8.34M254.5 397.33v8.34M229.33 397.5h8.34M233.5 393.33v8.34M224.33 396.5h8.34M228.5 392.33v8.34M268.33 396.5h8.34M272.5 392.33v8.34M224.33 398.5h8.34M228.5 394.33v8.34M262.33 401.5h8.34M266.5 397.33v8.34M250.33 400.5h8.34M254.5 396.33v8.34M232.33 395.5h8.34M236.5 391.33v8.34M233.33 399.5h8.34M237.5 395.33v8.34M250.33 401.5h8.34M254.5 397.33v8.34M274.33 397.5h8.34M278.5 393.33v8.34M256.33 394.5h8.34M260.5 390.33v8.34M247.33 396.5h8.34M251.5 392.33v8.34M268.33 398.5h8.34M272.5 394.33v8.34M253.33 394.5h8.34M257.5 390.33v8.34M264.33 392.5h8.34M268.5 388.33v8.34M242.33 399.5h8.34M246.5 395.33v8.34M258.33 396.5h8.34M262.5 392.33v8.34M282.33 397.5h8.34M286.5 393.33v8.34M241.33 397.5h8.34M245.5 393.33v8.34M268.33 396.5h8.34M272.5 392.33v8.34M272.33 398.5h8.34M276.5 394.33v8.34M263.33 397.5h8.34M267.5 393.33v8.34M249.33 396.5h8.34M253.5 392.33v8.34M231.33 395.5h8.34M235.5 391.33v8.34M267.33 387.5h8.34M271.5 383.33v8.34M241.33 398.5h8.34M245.5 394.33v8.34M263.33 400.5h8.34M267.5 396.33v8.34M239.33 400.5h8.34M243.5 396.33v8.34M281.33 396.5h8.34M285.5 392.33v8.34M284.33 390.5h8.34M288.5 386.33v8.34M250.33 398.5h8.34M254.5 394.33v8.34M270.33 399.5h8.34M274.5 395.33v8.34M225.33 398.5h8.34M229.5 394.33v8.34M253.33 405.5h8.34M257.5 401.33v8.34M276.33 396.5h8.34M280.5 392.33v8.34M242.33 396.5h8.34M246.5 392.33v8.34M262.33 397.5h8.34M266.5 393.33v8.34M255.33 398.5h8.34M259.5 394.33v8.34M280.33 400.5h8.34M284.5 396.33v8.34M233.33 398.5h8.34M237.5 394.33v8.34M243.33 397.5h8.34M247.5 393.33v8.34M232.33 398.5h8.34M236.5 394.33v8.34M264.33 399.5h8.34M268.5 395.33v8.34M248.33 396.5h8.34M252.5 392.33v8.34M256.33 396.5h8.34M260.5 392.33v8.34M273.33 399.5h8.34M277.5 395.33v8.34M275.33 397.5h8.34M279.5 393.33v8.34M244.33 396.5h8.34M248.5 392.33v8.34M277.33 398.5h8.34M281.5 394.33v8.34M261.33 401.5h8.34M265.5 397.33v8.34M263.33 397.5h8.34M267.5 393.33v8.34M235.33 402.5h8.34M239.5 398.33v8.34M239.33 397.5h8.34M243.5 393.33v8.34M222.33 399.5h8.34M226.5 395.33v8.34M283.33 394.5h8.34M287.5 390.33v8.34M238.33 397.5h8.34M242.5 393.33v8.34M230.33 394.5h8.34M234.5 390.33v8.34M236.33 394.5h8.34M240.5 390.33v8.34M274.33 396.5h8.34M278.5 392.33v8.34M235.33 393.5h8.34M239.5 389.33v8.34M267.33 401.5h8.34M271.5 397.33v8.34M260.33 392.5h8.34M264.5 388.33v8.34M254.33 398.5h8.34M258.5 394.33v8.34M250.33 396.5h8.34M254.5 392.33v8.34M231.33 399.5h8.34M235.5 395.33v8.34M224.33 399.5h8.34M228.5 395.33v8.34M229.33 396.5h8.34M233.5 392.33v8.34M274.33 402.5h8.34M278.5 398.33v8.34M227.33 395.5h8.34M231.5 391.33v8.34M274.33 393.5h8.34M278.5 389.33v8.34M233.33 397.5h8.34M237.5 393.33v8.34M281.33 396.5h8.34M285.5 392.33v8.34M252.33 397.5h8.34M256.5 393.33v8.34M227.33 398.5h8.34M231.5 394.33v8.34M246.33 399.5h8.34M250.5 395.33v8.34M253.33 395.5h8.34M257.5 391.33v8.34M273.33 400.5h8.34M277.5 396.33v8.34M260.33 397.5h8.34M264.5 393.33v8.34M248.33 399.5h8.34M252.5 395.33v8.34M252.33 397.5h8.34M256.5 393.33v8.34M257.33 397.5h8.34M261.5 393.33v8.34M224.33 395.5h8.34M228.5 391.33v8.34M278.33 404.5h8.34M282.5 400.33v8.34M235.33 398.5h8.34M239.5 394.33v8.34M254.33 393.5h8.34M258.5 389.33v8.34M224.33 398.5h8.34M228.5 394.33v8.34M233.33 400.5h8.34M237.5 396.33v8.34M237.33 395.5h8.34M241.5 391.33v8.34M227.33 398.5h8.34M231.5 394.33v8.34M282.33 398.5h8.34M286.5 394.33v8.34M284.33 395.5h8.34M288.5 391.33v8.34M240.33 396.5h8.34M244.5 392.33v8.34M280.33 399.5h8.34M284.5 395.33v8.34M251.33 400.5h8.34M255.5 396.33v8.34M239.33 401.5h8.34M243.5 397.33v8.34M260.33 396.5h8.34M264.5 392.33v8.34M247.33 402.5h8.34M251.5 398.33v8.34M230.33 398.5h8.34M234.5 394.33v8.34M260.33 398.5h8.34M264.5 394.33v8.34M260.33 399.5h8.34M264.5 395.33v8.34M270.33 402.5h8.34M274.5 398.33v8.34M227.33 399.5h8.34M231.5 395.33v8.34M240.33 398.5h8.34M244.5 394.33v8.34M241.33 396.5h8.34M245.5 392.33v8.34M249.33 396.5h8.34M253.5 392.33v8.34M228.33 397.5h8.34M232.5 393.33v8.34M261.33 395.5h8.34M265.5 391.33v8.34M247.33 400.5h8.34M251.5 396.33v8.34M265.33 398.5h8.34M269.5 394.33v8.34M274.33 405.5h8.34M278.5 401.33v8.34M234.33 397.5h8.34M238.5 393.33v8.34M273.33 400.5h8.34M277.5 396.33v8.34M266.33 396.5h8.34M270.5 392.33v8.34M269.33 395.5h8.34M273.5 391.33v8.34M244.33 398.5h8.34M248.5 394.33v8.34M309.33 394.5h8.34M313.5 390.33v8.34M290.33 403.5h8.34M294.5 399.33v8.34M288.33 397.5h8.34M292.5 393.33v8.34M316.33 411.5h8.34M320.5 407.33v8.34M304.33 389.5h8.34M308.5 385.33v8.34M317.33 394.5h8.34M321.5 390.33v8.34M314.33 390.5h8.34M318.5 386.33v8.34M305.33 394.5h8.34M309.5 390.33v8.34M296.33 389.5h8.34M300.5 385.33v8.34M281.33 398.5h8.34M285.5 394.33v8.34M283.33 405.5h8.34M287.5 401.33v8.34M299.33 405.5h8.34M303.5 401.33v8.34M300.33 392.5h8.34M304.5 388.33v8.34M309.33 392.5h8.34M313.5 388.33v8.34M320.33 397.5h8.34M324.5 393.33v8.34M286.33 402.5h8.34M290.5 398.33v8.34M287.33 399.5h8.34M291.5 395.33v8.34M281.33 402.5h8.34M285.5 398.33v8.34M313.33 399.5h8.34M317.5 395.33v8.34M319.33 397.5h8.34M323.5 393.33v8.34M294.33 400.5h8.34M298.5 396.33v8.34M304.33 397.5h8.34M308.5 393.33v8.34M287.33 402.5h8.34M291.5 398.33v8.34M287.33 395.5h8.34M291.5 391.33v8.34M285.33 392.5h8.34M289.5 388.33v8.34M304.33 408.5h8.34M308.5 404.33v8.34M284.33 395.5h8.34M288.5 391.33v8.34M296.33 393.5h8.34M300.5 389.33v8.34M304.33 397.5h8.34M308.5 393.33v8.34M294.33 394.5h8.34M298.5 390.33v8.34M284.33 403.5h8.34M288.5 399.33v8.34M296.33 394.5h8.34M300.5 390.33v8.34M292.33 393.5h8.34M296.5 389.33v8.34M287.33 398.5h8.34M291.5 394.33v8.34M302.33 394.5h8.34M306.5 390.33v8.34M303.33 386.5h8.34M307.5 382.33v8.34M320.33 411.5h8.34M324.5 407.33v8.34M294.33 386.5h8.34M298.5 382.33v8.34M281.33 394.5h8.34M285.5 390.33v8.34M300.33 410.5h8.34M304.5 406.33v8.34M288.33 398.5h8.34M292.5 394.33v8.34M310.33 401.5h8.34M314.5 397.33v8.34M302.33 399.5h8.34M306.5 395.33v8.34M302.33 404.5h8.34M306.5 400.33v8.34M301.33 397.5h8.34M305.5 393.33v8.34M313.33 397.5h8.34M317.5 393.33v8.34M299.33 399.5h8.34M303.5 395.33v8.34M295.33 393.5h8.34M299.5 389.33v8.34M304.33 392.5h8.34M308.5 388.33v8.34M290.33 391.5h8.34M294.5 387.33v8.34M299.33 401.5h8.34M303.5 397.33v8.34M292.33 398.5h8.34M296.5 394.33v8.34M305.33 402.5h8.34M309.5 398.33v8.34M302.33 397.5h8.34M306.5 393.33v8.34M290.33 395.5h8.34M294.5 391.33v8.34M289.33 398.5h8.34M293.5 394.33v8.34M287.33 398.5h8.34M291.5 394.33v8.34M292.33 393.5h8.34M296.5 389.33v8.34M317.33 404.5h8.34M321.5 400.33v8.34M295.33 397.5h8.34M299.5 393.33v8.34M305.33 395.5h8.34M309.5 391.33v8.34M319.33 396.5h8.34M323.5 392.33v8.34M293.33 396.5h8.34M297.5 392.33v8.34M318.33 404.5h8.34M322.5 400.33v8.34M321.33 397.5h8.34M325.5 393.33v8.34M283.33 401.5h8.34M287.5 397.33v8.34M303.33 403.5h8.34M307.5 399.33v8.34M294.33 396.5h8.34M298.5 392.33v8.34M290.33 396.5h8.34M294.5 392.33v8.34M304.33 398.5h8.34M308.5 394.33v8.34M304.33 400.5h8.34M308.5 396.33v8.34M313.33 398.5h8.34M317.5 394.33v8.34M317.33 398.5h8.34M321.5 394.33v8.34M319.33 389.5h8.34M323.5 385.33v8.34M310.33 401.5h8.34M314.5 397.33v8.34M291.33 398.5h8.34M295.5 394.33v8.34M304.33 397.5h8.34M308.5 393.33v8.34M314.33 400.5h8.34M318.5 396.33v8.34M289.33 403.5h8.34M293.5 399.33v8.34M285.33 393.5h8.34M289.5 389.33v8.34M301.33 411.5h8.34M305.5 407.33v8.34M284.33 399.5h8.34M288.5 395.33v8.34M294.33 399.5h8.34M298.5 395.33v8.34M306.33 403.5h8.34M310.5 399.33v8.34M286.33 395.5h8.34M290.5 391.33v8.34M302.33 391.5h8.34M306.5 387.33v8.34M300.33 398.5h8.34M304.5 394.33v8.34M282.33 396.5h8.34M286.5 392.33v8.34M299.33 397.5h8.34M303.5 393.33v8.34M288.33 402.5h8.34M292.5 398.33v8.34M284.33 396.5h8.34M288.5 392.33v8.34M313.33 389.5h8.34M317.5 385.33v8.34M283.33 395.5h8.34M287.5 391.33v8.34M283.33 396.5h8.34M287.5 392.33v8.34M297.33 406.5h8.34M301.5 402.33v8.34M307.33 407.5h8.34M311.5 403.33v8.34M288.33 401.5h8.34M292.5 397.33v8.34M307.33 402.5h8.34M311.5 398.33v8.34M293.33 399.5h8.34M297.5 395.33v8.34M321.33 402.5h8.34M325.5 398.33v8.34M295.33 402.5h8.34M299.5 398.33v8.34M300.33 391.5h8.34M304.5 387.33v8.34M291.33 393.5h8.34M295.5 389.33v8.34M298.33 397.5h8.34M302.5 393.33v8.34M291.33 398.5h8.34M295.5 394.33v8.34M297.33 400.5h8.34M301.5 396.33v8.34M288.33 396.5h8.34M292.5 392.33v8.34M320.33 394.5h8.34M324.5 390.33v8.34M283.33 401.5h8.34M287.5 397.33v8.34M294.33 399.5h8.34M298.5 395.33v8.34M305.33 413.5h8.34M309.5 409.33v8.34M302.33 404.5h8.34M306.5 400.33v8.34M320.33 403.5h8.34M324.5 399.33v8.34M287.33 400.5h8.34M291.5 396.33v8.34M319.33 391.5h8.34M323.5 387.33v8.34M306.33 404.5h8.34M310.5 400.33v8.34M319.33 395.5h8.34M323.5 391.33v8.34M317.33 398.5h8.34M321.5 394.33v8.34M313.33 399.5h8.34M317.5 395.33v8.34M286.33 392.5h8.34M290.5 388.33v8.34M290.33 398.5h8.34M294.5 394.33v8.34M314.33 397.5h8.34M318.5 393.33v8.34M299.33 400.5h8.34M303.5 396.33v8.34M281.33 397.5h8.34M285.5 393.33v8.34M303.33 398.5h8.34M307.5 394.33v8.34M306.33 395.5h8.34M310.5 391.33v8.34M295.33 392.5h8.34M299.5 388.33v8.34M293.33 399.5h8.34M297.5 395.33v8.34M294.33 392.5h8.34M298.5 388.33v8.34M289.33 396.5h8.34M293.5 392.33v8.34M321.33 381.5h8.34M325.5 377.33v8.34M310.33 396.5h8.34M314.5 392.33v8.34M305.33 397.5h8.34M309.5 393.33v8.34M287.33 398.5h8.34M291.5 394.33v8.34M309.33 407.5h8.34M313.5 403.33v8.34M307.33 393.5h8.34M311.5 389.33v8.34M299.33 394.5h8.34M303.5 390.33v8.34M295.33 396.5h8.34M299.5 392.33v8.34M302.33 394.5h8.34M306.5 390.33v8.34M290.33 401.5h8.34M294.5 397.33v8.34M322.33 394.5h8.34M326.5 390.33v8.34M286.33 398.5h8.34M290.5 394.33v8.34M300.33 394.5h8.34M304.5 390.33v8.34M284.33 399.5h8.34M288.5 395.33v8.34M319.33 394.5h8.34M323.5 390.33v8.34M316.33 398.5h8.34M320.5 394.33v8.34M296.33 398.5h8.34M300.5 394.33v8.34M319.33 398.5h8.34M323.5 394.33v8.34M284.33 404.5h8.34M288.5 400.33v8.34M319.33 391.5h8.34M323.5 387.33v8.34M286.33 399.5h8.34M290.5 395.33v8.34M287.33 392.5h8.34M291.5 388.33v8.34M287.33 390.5h8.34M291.5 386.33v8.34M303.33 394.5h8.34M307.5 390.33v8.34M311.33 399.5h8.34M315.5 395.33v8.34M289.33 403.5h8.34M293.5 399.33v8.34M296.33 398.5h8.34M300.5 394.33v8.34M322.33 399.5h8.34M326.5 395.33v8.34M314.33 393.5h8.34M318.5 389.33v8.34M291.33 408.5h8.34M295.5 404.33v8.34M314.33 392.5h8.34M318.5 388.33v8.34M292.33 393.5h8.34M296.5 389.33v8.34M297.33 400.5h8.34M301.5 396.33v8.34M308.33 395.5h8.34M312.5 391.33v8.34M314.33 399.5h8.34M318.5 395.33v8.34M315.33 390.5h8.34M319.5 386.33v8.34M290.33 401.5h8.34M294.5 397.33v8.34M297.33 389.5h8.34M301.5 385.33v8.34M306.33 398.5h8.34M310.5 394.33v8.34M283.33 399.5h8.34M287.5 395.33v8.34M178.33 250.5h8.34M182.5 246.33v8.34M192.33 258.5h8.34M196.5 254.33v8.34M194.33 261.5h8.34M198.5 257.33v8.34M192.33 263.5h8.34M196.5 259.33v8.34M194.33 270.5h8.34M198.5 266.33v8.34M178.33 272.5h8.34M182.5 268.33v8.34M169.33 277.5h8.34M173.5 273.33v8.34M176.33 278.5h8.34M180.5 274.33v8.34M190.33 277.5h8.34M194.5 273.33v8.34M199.33 276.5h8.34M203.5 272.33v8.34M193.33 284.5h8.34M197.5 280.33v8.34M196.33 293.5h8.34M200.5 289.33v8.34M211.33 284.5h8.34M215.5 280.33v8.34M218.33 286.5h8.34M222.5 282.33v8.34M232.33 283.5h8.34M236.5 279.33v8.34M171.33 309.5h8.34M175.5 305.33v8.34M174.33 317.5h8.34M178.5 313.33v8.34M176.33 320.5h8.34M180.5 316.33v8.34M177.33 328.5h8.34M181.5 324.33v8.34M177.33 331.5h8.34M181.5 327.33v8.34M178.33 333.5h8.34M182.5 329.33v8.34M173.33 336.5h8.34M177.5 332.33v8.34M177.33 349.5h8.34M181.5 345.33v8.34M174.33 359.5h8.34M178.5 355.33v8.34M177.33 359.5h8.34M181.5 355.33v8.34M178.33 359.5h8.34M182.5 355.33v8.34M181.33 359.5h8.34M185.5 355.33v8.34M177.33 357.5h8.34M181.5 353.33v8.34M178.33 360.5h8.34M182.5 356.33v8.34M225.33 331.5h8.34M229.5 327.33v8.34M177.33 381.5h8.34M181.5 377.33v8.34M179.33 384.5h8.34M183.5 380.33v8.34M176.33 389.5h8.34M180.5 385.33v8.34M226.33 380.5h8.34M230.5 376.33v8.34M229.33 387.5h8.34M233.5 383.33v8.34M225.33 387.5h8.34M229.5 383.33v8.34M259.33 368.5h8.34M263.5 364.33v8.34M259.33 371.5h8.34M263.5 367.33v8.34M247.33 385.5h8.34M251.5 381.33v8.34M245.33 388.5h8.34M249.5 384.33v8.34M259.33 385.5h8.34M263.5 381.33v8.34M273.33 363.5h8.34M277.5 359.33v8.34M269.33 375.5h8.34M273.5 371.33v8.34M274.33 374.5h8.34M278.5 370.33v8.34M272.33 376.5h8.34M276.5 372.33v8.34M265.33 383.5h8.34M269.5 379.33v8.34M262.33 385.5h8.34M266.5 381.33v8.34M236.33 296.5h8.34M240.5 292.33v8.34M249.33 290.5h8.34M253.5 286.33v8.34M252.33 298.5h8.34M256.5 294.33v8.34M252.33 299.5h8.34M256.5 295.33v8.34M255.33 306.5h8.34M259.5 302.33v8.34M263.33 299.5h8.34M267.5 295.33v8.34M265.33 284.5h8.34M269.5 280.33v8.34M262.33 275.5h8.34M266.5 271.33v8.34M269.33 275.5h8.34M273.5 271.33v8.34M256.33 266.5h8.34M260.5 262.33v8.34M260.33 256.5h8.34M264.5 252.33v8.34M265.33 258.5h8.34M269.5 254.33v8.34M262.33 251.5h8.34M266.5 247.33v8.34M277.33 252.5h8.34M281.5 248.33v8.34M271.33 292.5h8.34M275.5 288.33v8.34M275.33 295.5h8.34M279.5 291.33v8.34M275.33 277.5h8.34M279.5 273.33v8.34M280.33 273.5h8.34M284.5 269.33v8.34M283.33 270.5h8.34M287.5 266.33v8.34M283.33 274.5h8.34M287.5 270.33v8.34M283.33 279.5h8.34M287.5 275.33v8.34M283.33 282.5h8.34M287.5 278.33v8.34M283.33 288.5h8.34M287.5 284.33v8.34M283.33 293.5h8.34M287.5 289.33v8.34M279.33 302.5h8.34M283.5 298.33v8.34M236.33 316.5h8.34M240.5 312.33v8.34M253.33 321.5h8.34M257.5 317.33v8.34M257.33 321.5h8.34M261.5 317.33v8.34M246.33 326.5h8.34M250.5 322.33v8.34M261.33 325.5h8.34M265.5 321.33v8.34M261.33 330.5h8.34M265.5 326.33v8.34M271.33 316.5h8.34M275.5 312.33v8.34M271.33 328.5h8.34M275.5 324.33v8.34M241.33 344.5h8.34M245.5 340.33v8.34M243.33 342.5h8.34M247.5 338.33v8.34M246.33 348.5h8.34M250.5 344.33v8.34M267.33 338.5h8.34M271.5 334.33v8.34M263.33 351.5h8.34M267.5 347.33v8.34M266.33 347.5h8.34M270.5 343.33v8.34M270.33 346.5h8.34M274.5 342.33v8.34M272.33 352.5h8.34M276.5 348.33v8.34M272.33 353.5h8.34M276.5 349.33v8.34M278.33 348.5h8.34M282.5 344.33v8.34M274.33 336.5h8.34M278.5 332.33v8.34M279.33 303.5h8.34M283.5 299.33v8.34M278.33 310.5h8.34M282.5 306.33v8.34M280.33 358.5h8.34M284.5 354.33v8.34M278.33 322.5h8.34M282.5 318.33v8.34M279.33 333.5h8.34M283.5 329.33v8.34M269.33 435.5h8.34M273.5 431.33v8.34M311.33 427.5h8.34M315.5 423.33v8.34M308.33 423.5h8.34M312.5 419.33v8.34M317.33 426.5h8.34M321.5 422.33v8.34M321.33 424.5h8.34M325.5 420.33v8.34M321.33 427.5h8.34M325.5 423.33v8.34M323.33 424.5h8.34M327.5 420.33v8.34M328.33 391.5h8.34M332.5 387.33v8.34M336.33 391.5h8.34M340.5 387.33v8.34M328.33 404.5h8.34M332.5 400.33v8.34M334.33 403.5h8.34M338.5 399.33v8.34M336.33 403.5h8.34M340.5 399.33v8.34M331.33 414.5h8.34M335.5 410.33v8.34M339.33 414.5h8.34M343.5 410.33v8.34M333.33 417.5h8.34M337.5 413.33v8.34M336.33 420.5h8.34M340.5 416.33v8.34M339.33 419.5h8.34M343.5 415.33v8.34M333.33 425.5h8.34M337.5 421.33v8.34M337.33 423.5h8.34M341.5 419.33v8.34M350.33 416.5h8.34M354.5 412.33v8.34M363.33 405.5h8.34M367.5 401.33v8.34M365.33 424.5h8.34M369.5 420.33v8.34M361.33 428.5h8.34M365.5 424.33v8.34M319.33 341.5h8.34M323.5 337.33v8.34M326.33 344.5h8.34M330.5 340.33v8.34M313.33 332.5h8.34M317.5 328.33v8.34M313.33 337.5h8.34M317.5 333.33v8.34M321.33 361.5h8.34M325.5 357.33v8.34M325.33 369.5h8.34M329.5 365.33v8.34M326.33 374.5h8.34M330.5 370.33v8.34M328.33 381.5h8.34M332.5 377.33v8.34M336.33 389.5h8.34M340.5 385.33v8.34M277.33 252.5h8.34M281.5 248.33v8.34M283.33 251.5h8.34M287.5 247.33v8.34M287.33 255.5h8.34M291.5 251.33v8.34M291.33 255.5h8.34M295.5 251.33v8.34M296.33 257.5h8.34M300.5 253.33v8.34M297.33 258.5h8.34M301.5 254.33v8.34M302.33 252.5h8.34M306.5 248.33v8.34M302.33 256.5h8.34M306.5 252.33v8.34M289.33 264.5h8.34M293.5 260.33v8.34M293.33 263.5h8.34M297.5 259.33v8.34M291.33 267.5h8.34M295.5 263.33v8.34M300.33 264.5h8.34M304.5 260.33v8.34M282.33 269.5h8.34M286.5 265.33v8.34M280.33 273.5h8.34M284.5 269.33v8.34M283.33 273.5h8.34M287.5 269.33v8.34M287.33 274.5h8.34M291.5 270.33v8.34M290.33 275.5h8.34M294.5 271.33v8.34M292.33 274.5h8.34M296.5 270.33v8.34M298.33 271.5h8.34M302.5 267.33v8.34M299.33 275.5h8.34M303.5 271.33v8.34M300.33 279.5h8.34M304.5 275.33v8.34M283.33 278.5h8.34M287.5 274.33v8.34M283.33 282.5h8.34M287.5 278.33v8.34M283.33 286.5h8.34M287.5 282.33v8.34M282.33 290.5h8.34M286.5 286.33v8.34M305.33 285.5h8.34M309.5 281.33v8.34M296.33 69.5h8.34M300.5 65.33v8.34M298.33 285.5h8.34M302.5 281.33v8.34M302.33 287.5h8.34M306.5 283.33v8.34M297.33 289.5h8.34M301.5 285.33v8.34M294.33 292.5h8.34M298.5 288.33v8.34M291.33 289.5h8.34M295.5 285.33v8.34M305.33 285.5h8.34M309.5 281.33v8.34M283.33 290.5h8.34M287.5 286.33v8.34M282.33 293.5h8.34M286.5 289.33v8.34M271.33 292.5h8.34M275.5 288.33v8.34M300.33 264.5h8.34M304.5 260.33v8.34M299.33 275.5h8.34M303.5 271.33v8.34" stroke="#00bfbf" stroke-width="0.7" fill="none"/>
<path id="rough-sample" d="M211.33 280.33l8.34 8.34M211.33 288.67l8.34 -8.34M218.33 282.33l8.34 8.34M218.33 290.67l8.34 -8.34" stroke="#0000ff" stroke-width="0.8" fill="none"/>
<g id="psf-sample" fill="#bf00bf" stroke="#000" stroke-width="0.7">
<circle cx="201.02" cy="395.58" r="4.17"/>
<circle cx="211.36" cy="396.71" r="4.17"/>
<circle cx="200.32" cy="399.71" r="4.17"/>
<circle cx="194.42" cy="399.42" r="4.17"/>
<circle cx="188.51" cy="399.78" r="4.17"/>
<circle cx="202.5" cy="397.26" r="4.17"/>
<circle cx="192.16" cy="397.28" r="4.17"/>
<circle cx="189.98" cy="399.76" r="4.17"/>
<circle cx="219.52" cy="399.21" r="4.17"/>
<circle cx="195.89" cy="399.45" r="4.17"/>
<circle cx="187.73" cy="396.52" r="4.17"/>
<circle cx="212.84" cy="396.02" r="4.17"/>
<circle cx="216.57" cy="399.48" r="4.17"/>
<circle cx="215.79" cy="396.68" r="4.17"/>
<circle cx="199.55" cy="396" r="4.17"/>
<circle cx="207.71" cy="399.76" r="4.17"/>
<circle cx="217.27" cy="397.4" r="4.17"/>
<circle cx="187.03" cy="399.77" r="4.17"/>
<circle cx="183.3" cy="395.66" r="4.17"/>
<circle cx="193.64" cy="395.84" r="4.17"/>
<circle cx="206.93" cy="395.45" r="4.17"/>
<circle cx="206.23" cy="399.47" r="4.17"/>
<circle cx="212.14" cy="399.53" r="4.17"/>
<circle cx="220.22" cy="395.58" r="4.17"/>
<circle cx="192.94" cy="399.73" r="4.17"/>
<circle cx="182.6" cy="399.61" r="4.17"/>
<circle cx="190.68" cy="395.52" r="4.17"/>
<circle cx="215.09" cy="399.65" r="4.17"/>
<circle cx="191.46" cy="399.55" r="4.17"/>
<circle cx="214.32" cy="396.98" r="4.17"/>
<circle cx="221" cy="397.12" r="4.17"/>
<circle cx="203.28" cy="399.69" r="4.17"/>
<circle cx="196.59" cy="396.25" r="4.17"/>
<circle cx="184.78" cy="395.47" r="4.17"/>
<circle cx="218.75" cy="395.99" r="4.17"/>
<circle cx="204.75" cy="399.42" r="4.17"/>
<circle cx="195.12" cy="397.57" r="4.17"/>
<circle cx="186.25" cy="396.18" r="4.17"/>
<circle cx="218.05" cy="399.36" r="4.17"/>
<circle cx="203.98" cy="396.7" r="4.17"/>
<circle cx="209.88" cy="396.33" r="4.17"/>
<circle cx="221" cy="399.55" r="4.17"/>
<circle cx="210.66" cy="399.61" r="4.17"/>
<circle cx="198.85" cy="399.28" r="4.17"/>
<circle cx="198.07" cy="395.41" r="4.17"/>
<circle cx="197.37" cy="399.21" r="4.17"/>
<circle cx="209.18" cy="399.39" r="4.17"/>
<circle cx="208.41" cy="395.79" r="4.17"/>
<circle cx="185.55" cy="399.48" r="4.17"/>
<circle cx="213.62" cy="399.32" r="4.17"/>
<circle cx="184.08" cy="399.41" r="4.17"/>
<circle cx="201.8" cy="399.61" r="4.17"/>
<circle cx="205.45" cy="396.19" r="4.17"/>
<circle cx="189.21" cy="396.34" r="4.17"/>
<circle cx="182.6" cy="394.37" r="4.17"/>
<circle cx="185.55" cy="394.59" r="4.17"/>
<circle cx="188.51" cy="394.35" r="4.17"/>
<circle cx="191.46" cy="394.1" r="4.17"/>
<circle cx="194.42" cy="393.98" r="4.17"/>
<circle cx="197.37" cy="393.87" r="4.17"/>
<circle cx="200.32" cy="393.92" r="4.17"/>
<circle cx="203.28" cy="394.33" r="4.17"/>
<circle cx="206.23" cy="393.81" r="4.17"/>
<circle cx="209.18" cy="394.46" r="4.17"/>
<circle cx="212.14" cy="393.95" r="4.17"/>
<circle cx="215.09" cy="394.03" r="4.17"/>
<circle cx="218.05" cy="393.92" r="4.17"/>
<circle cx="221" cy="394.23" r="4.17"/>
<circle cx="213.5" cy="394" r="4.17"/>
<circle cx="205.3" cy="392.6" r="4.17"/>
<circle cx="219.8" cy="393.6" r="4.17"/>
<circle cx="197.6" cy="395.2" r="4.17"/>
<circle cx="206.4" cy="394" r="4.17"/>
<circle cx="184.4" cy="393.6" r="4.17"/>
</g>
<line x1="100.5" y1="399.5" x2="382.5" y2="399.5" stroke="#0000ff" stroke-width="1.389" stroke-dasharray="8.33 8.33"/>
<line x1="100.5" y1="398.5" x2="382.5" y2="398.5" stroke="#ff0000" stroke-width="1.389" stroke-dasharray="8.33 8.33"/>
<line x1="100.5" y1="392.5" x2="382.5" y2="392.5" stroke="#0000ff" stroke-width="1.389" stroke-dasharray="4.17 6.94 1.39 6.94"/>
<line x1="100.5" y1="404.5" x2="382.5" y2="404.5" stroke="#0000ff" stroke-width="1.389" stroke-dasharray="4.17 6.94 1.39 6.94"/>
</g>
<g id="left-axes">
<rect x="100.5" y="60.5" width="282.0" height="480.0" fill="none" stroke="#000" stroke-width="1.389"/>
<text transform="translate(100.2,560) scale(0.967,1.066)" font-size="16.667" text-anchor="middle">−20</text>
<text transform="translate(138.2,560) scale(0.967,1.066)" font-size="16.667" text-anchor="middle">−18</text>
<text transform="translate(175.2,560) scale(0.967,1.066)" font-size="16.667" text-anchor="middle">−16</text>
<text transform="translate(213.2,560) scale(0.967,1.066)" font-size="16.667" text-anchor="middle">−14</text>
<text transform="translate(250.2,560) scale(0.967,1.066)" font-size="16.667" text-anchor="middle">−12</text>
<text transform="translate(288.2,560) scale(0.967,1.066)" font-size="16.667" text-anchor="middle">−10</text>
<text transform="translate(325.2,560) scale(0.967,1.066)" font-size="16.667" text-anchor="middle">−8</text>
<text transform="translate(363.2,560) scale(0.967,1.066)" font-size="16.667" text-anchor="middle">−6</text>
<text transform="translate(118.1,50) scale(0.935,1.066)" font-size="16.667" text-anchor="middle">14</text>
<text transform="translate(155.1,50) scale(0.935,1.066)" font-size="16.667" text-anchor="middle">16</text>
<text transform="translate(193.1,50) scale(0.935,1.066)" font-size="16.667" text-anchor="middle">18</text>
<text transform="translate(231.1,50) scale(0.935,1.066)" font-size="16.667" text-anchor="middle">20</text>
<text transform="translate(268.1,50) scale(0.935,1.066)" font-size="16.667" text-anchor="middle">22</text>
<text transform="translate(306.1,50) scale(0.935,1.066)" font-size="16.667" text-anchor="middle">24</text>
<text transform="translate(343.1,50) scale(0.935,1.066)" font-size="16.667" text-anchor="middle">26</text>
<text transform="translate(381.1,50) scale(0.935,1.066)" font-size="16.667" text-anchor="middle">28</text>
<text transform="translate(95.5,544.5) scale(0.935,1.066)" font-size="16.667" text-anchor="end">0</text>
<text transform="translate(95.5,424.5) scale(0.935,1.066)" font-size="16.667" text-anchor="end">5</text>
<text transform="translate(95.5,304.5) scale(0.935,1.066)" font-size="16.667" text-anchor="end">10</text>
<text transform="translate(95.5,184.5) scale(0.935,1.066)" font-size="16.667" text-anchor="end">15</text>
<text transform="translate(95.5,64.5) scale(0.935,1.066)" font-size="16.667" text-anchor="end">20</text>
<path d="M100.5 540.5v-6.0M138.5 540.5v-6.0M175.5 540.5v-6.0M213.5 540.5v-6.0M250.5 540.5v-6.0M288.5 540.5v-6.0M325.5 540.5v-6.0M363.5 540.5v-6.0M118.5 60.5v6.0M155.5 60.5v6.0M193.5 60.5v6.0M231.5 60.5v6.0M268.5 60.5v6.0M306.5 60.5v6.0M343.5 60.5v6.0M381.5 60.5v6.0M100.5 540.5h6.0M382.5 540.5h-6.0M100.5 420.5h6.0M382.5 420.5h-6.0M100.5 300.5h6.0M382.5 300.5h-6.0M100.5 180.5h6.0M382.5 180.5h-6.0M100.5 60.5h6.0M382.5 60.5h-6.0" stroke="#000" stroke-width="0.7" fill="none"/>
<text transform="translate(241.8,584) scale(1,1.07)" font-size="16.667" text-anchor="middle">magnitude (bottom:isnt / top:calib)</text>
<text transform="translate(64,300) rotate(-90) scale(1,1.07)" font-size="16.667" text-anchor="middle">FWHM (pix)</text>
<text transform="translate(227,29) scale(1.004,1)" font-size="20" text-anchor="middle">FWHM vs magnitudes</text>
</g>
<g id="right-plot">
<rect x="438.5" y="217.5" width="71" height="57" fill="#0000ff" stroke="#000" stroke-width="1.2"/>
<rect x="438.5" y="274.5" width="223" height="57" fill="#0000ff" stroke="#000" stroke-width="1.2"/>
<line x1="438.18" y1="305.5" x2="705.91" y2="305.5" stroke="#000" stroke-width="1.389" stroke-dasharray="8.33 8.33"/>
<rect x="438.5" y="60.5" width="282.0" height="480.0" fill="none" stroke="#000" stroke-width="1.389"/>
<text transform="translate(438.5,560) scale(0.935,1.066)" font-size="16.667" text-anchor="middle">0</text>
<text transform="translate(495.5,560) scale(0.935,1.066)" font-size="16.667" text-anchor="middle">20</text>
<text transform="translate(551.5,560) scale(0.935,1.066)" font-size="16.667" text-anchor="middle">40</text>
<text transform="translate(607.5,560) scale(0.935,1.066)" font-size="16.667" text-anchor="middle">60</text>
<text transform="translate(664.5,560) scale(0.935,1.066)" font-size="16.667" text-anchor="middle">80</text>
<text transform="translate(720.5,560) scale(0.935,1.066)" font-size="16.667" text-anchor="middle">100</text>
<text transform="translate(432.7,544.6) scale(0.935,1.066)" font-size="16.667" text-anchor="end">5.0</text>
<text transform="translate(432.7,491.6) scale(0.935,1.066)" font-size="16.667" text-anchor="end">5.2</text>
<text transform="translate(432.7,437.6) scale(0.935,1.066)" font-size="16.667" text-anchor="end">5.4</text>
<text transform="translate(432.7,384.6) scale(0.935,1.066)" font-size="16.667" text-anchor="end">5.6</text>
<text transform="translate(432.7,331.6) scale(0.935,1.066)" font-size="16.667" text-anchor="end">5.8</text>
<text transform="translate(432.7,277.6) scale(0.935,1.066)" font-size="16.667" text-anchor="end">6.0</text>
<text transform="translate(432.7,224.6) scale(0.935,1.066)" font-size="16.667" text-anchor="end">6.2</text>
<text transform="translate(432.7,171.6) scale(0.935,1.066)" font-size="16.667" text-anchor="end">6.4</text>
<text transform="translate(432.7,117.6) scale(0.935,1.066)" font-size="16.667" text-anchor="end">6.6</text>
<text transform="translate(432.7,64.6) scale(0.935,1.066)" font-size="16.667" text-anchor="end">6.8</text>
<path d="M438.5 540.5v-6.0M438.5 60.5v6.0M495.5 540.5v-6.0M495.5 60.5v6.0M551.5 540.5v-6.0M551.5 60.5v6.0M607.5 540.5v-6.0M607.5 60.5v6.0M664.5 540.5v-6.0M664.5 60.5v6.0M720.5 540.5v-6.0M720.5 60.5v6.0M438.5 540.5h6.0M720.5 540.5h-6.0M438.5 487.5h6.0M720.5 487.5h-6.0M438.5 433.5h6.0M720.5 433.5h-6.0M438.5 380.5h6.0M720.5 380.5h-6.0M438.5 327.5h6.0M720.5 327.5h-6.0M438.5 273.5h6.0M720.5 273.5h-6.0M438.5 220.5h6.0M720.5 220.5h-6.0M438.5 167.5h6.0M720.5 167.5h-6.0M438.5 113.5h6.0M720.5 113.5h-6.0M438.5 60.5h6.0M720.5 60.5h-6.0" stroke="#000" stroke-width="0.7" fill="none"/>
<text transform="translate(579.5,584) scale(1,1.07)" font-size="16.667" text-anchor="middle">number of sources</text>
<text transform="translate(579.7,53) scale(1.004,1)" font-size="20" text-anchor="middle">histogram of FWHM</text>
<text transform="translate(395.5,300) rotate(-90) scale(1,1.07)" font-size="16.667" text-anchor="middle">FWHM of best-effort PSF-like sources</text>
</g>
<g id="legend">
<rect x="27.5" y="70.5" width="345.0" height="180.0" fill="#fff" stroke="#000" stroke-width="1.389"/>
<text transform="translate(91,92.8) scale(1.004,1)" font-size="20" text-anchor="start">all sample</text>
<path d="M37.33 86.5h8.34M41.5 82.33v8.34M65.33 86.5h8.34M69.5 82.33v8.34" stroke="#00bfbf" stroke-width="0.8" fill="none"/>
<text transform="translate(91,121.8) scale(1.004,1)" font-size="20" text-anchor="start">sample for rough FWHM</text>
<path d="M37.33 111.33l8.34 8.34M37.33 119.67l8.34 -8.34M65.33 111.33l8.34 8.34M65.33 119.67l8.34 -8.34" stroke="#0000ff" stroke-width="0.8" fill="none"/>
<text transform="translate(91,150.8) scale(1.004,1)" font-size="20" text-anchor="start">best-effort PSF-like sample</text>
<circle cx="41.5" cy="144.5" r="4.17" fill="#bf00bf" stroke="#000" stroke-width="0.7"/>
<circle cx="69.5" cy="144.5" r="4.17" fill="#bf00bf" stroke="#000" stroke-width="0.7"/>
<text transform="translate(91,179.8) scale(1.004,1)" font-size="20" text-anchor="start">resultant FWHM: 5.88</text>
<line x1="41.5" y1="173.5" x2="69.5" y2="173.5" stroke="#0000ff" stroke-width="1.389" stroke-dasharray="8.33 8.33"/>
<text transform="translate(91,208.8) scale(1.004,1)" font-size="20" text-anchor="start">median FHWM of sequence</text>
<line x1="41.5" y1="202.5" x2="69.5" y2="202.5" stroke="#ff0000" stroke-width="1.389" stroke-dasharray="8.33 8.33"/>
<text transform="translate(91,237.8) scale(1.004,1)" font-size="20" text-anchor="start">sigma range</text>
<line x1="41.5" y1="231.5" x2="69.5" y2="231.5" stroke="#0000ff" stroke-width="1.389" stroke-dasharray="4.17 6.94 1.39 6.94"/>
</g>
</svg>
</body>
</html>
